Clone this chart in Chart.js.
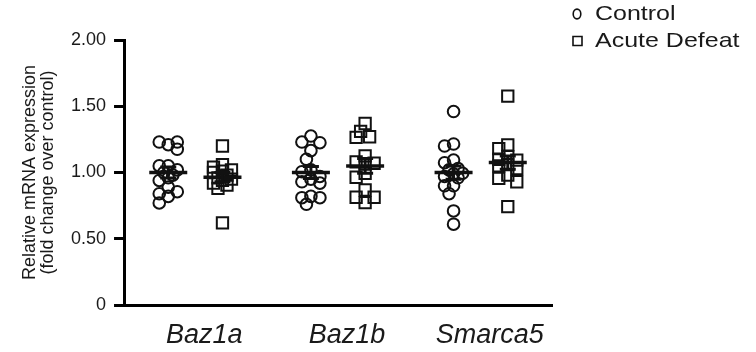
<!DOCTYPE html>
<html lang="en">
<head>
<meta charset="UTF-8">
<title>Baz1a / Baz1b / Smarca5 expression</title>
<script src="https://cdn.jsdelivr.net/npm/chart.js"></script>
<style>
    body { margin: 0; background: #fff; }
    .wrap { width: 756px; height: 352px; }
</style>
</head>
<body>
<div class="wrap"><canvas id="chart" width="756" height="352"></canvas></div>
<script>
const categories = ['Baz1a', 'Baz1b', 'Smarca5'];
const seriesNames = ['Control', 'Acute Defeat'];

// individual animals, fold change over control
const controlValues = [
    [1.21, 1.23, 1.175, 1.23, 1.05, 1.05, 1.02, 1.00, 0.98, 0.94, 0.96, 0.89, 0.84, 0.855, 0.82, 0.77],
    [1.275, 1.23, 1.225, 1.165, 1.10, 1.02, 1.006, 0.97, 0.95, 0.93, 0.92, 0.82, 0.81, 0.81, 0.76],
    [1.46, 1.215, 1.20, 1.094, 1.074, 1.03, 1.02, 0.994, 0.99, 0.97, 0.96, 0.90, 0.90, 0.84, 0.71, 0.61]
];
const defeatValues = [
    [1.20, 1.06, 1.04, 1.02, 1.01, 1.00, 0.98, 0.96, 0.95, 0.94, 0.92, 0.905, 0.88, 0.62],
    [1.37, 1.31, 1.27, 1.265, 1.125, 1.08, 1.07, 1.064, 0.994, 0.964, 0.868, 0.813, 0.813, 0.772],
    [1.577, 1.208, 1.18, 1.12, 1.10, 1.094, 1.06, 1.05, 1.03, 0.98, 0.956, 0.93, 0.742]
];

// group mean and SEM
const controlMean = [1.00, 1.00, 1.00];
const controlSem = [0.042, 0.045, 0.05];
const defeatMean = [0.965, 1.05, 1.075];
const defeatSem = [0.035, 0.056, 0.05];

const yTicks = [0, 0.5, 1, 1.5, 2];

const FONT = "'Liberation Sans', Arial, Helvetica, sans-serif";
const INK = '#111';
const GROUP_SHIFT = 0.19;   // control left of the gene, defeat right of it

// rough plot scale, only used to push overlapping dots sideways
const PX_PER_X = 428 / 3;
const PX_PER_Y = 265 / 2;

function swarm(values, center) {
    const placed = [];
    const steps = [0, -4.5, 4.5, -9, 9];
    return values.map(v => {
        let best = 0, bestGap = -1;
        for (const dx of steps) {
            let gap = Infinity;
            placed.forEach(p => {
                gap = Math.min(gap, Math.hypot(dx - p.dx, (v - p.v) * PX_PER_Y));
            });
            if (gap >= 9) { best = dx; bestGap = gap; break; }
            if (gap > bestGap) { best = dx; bestGap = gap; }
        }
        placed.push({ dx: best, v: v });
        return { x: center + best / PX_PER_X, y: v };
    });
}

function buildPoints(groups, shift) {
    let pts = [];
    groups.forEach((vals, i) => { pts = pts.concat(swarm(vals, i + shift)); });
    return pts;
}

// mean bar with SEM whiskers for every group
const meanSemPlugin = {
    id: 'meanSem',
    afterDatasetsDraw(chart) {
        const { ctx, scales: { x, y } } = chart;
        const sets = [
            { mean: controlMean, sem: controlSem, shift: -GROUP_SHIFT },
            { mean: defeatMean, sem: defeatSem, shift: GROUP_SHIFT }
        ];
        ctx.save();
        ctx.strokeStyle = INK;
        ctx.lineCap = 'butt';
        sets.forEach(s => {
            categories.forEach((c, i) => {
                const cx = x.getPixelForValue(i + s.shift);
                const ym = y.getPixelForValue(s.mean[i]);
                const yHi = y.getPixelForValue(s.mean[i] + s.sem[i]);
                const yLo = y.getPixelForValue(s.mean[i] - s.sem[i]);
                ctx.lineWidth = 3.5;
                ctx.beginPath();
                ctx.moveTo(cx - 19, ym); ctx.lineTo(cx + 19, ym);
                ctx.stroke();
                ctx.lineWidth = 3;
                ctx.beginPath();
                ctx.moveTo(cx, yHi); ctx.lineTo(cx, yLo);
                ctx.moveTo(cx - 8, yHi); ctx.lineTo(cx + 8, yHi);
                ctx.moveTo(cx - 8, yLo); ctx.lineTo(cx + 8, yLo);
                ctx.stroke();
            });
        });
        ctx.restore();
    }
};

// small legend in the top right corner, above the plot
const cornerLegend = {
    id: 'cornerLegend',
    afterDraw(chart) {
        const ctx = chart.ctx;
        ctx.save();
        ctx.strokeStyle = INK;
        ctx.fillStyle = '#1a1a1a';
        ctx.lineWidth = 1.6;
        chart.data.datasets.forEach((ds, k) => {
            const my = k === 0 ? 14 : 41;
            ctx.beginPath();
            if (ds.pointStyle === 'circle') {
                ctx.ellipse(577, my, 3.8, 4.9, 0, 0, Math.PI * 2);
            } else {
                ctx.rect(573, my - 4.5, 9, 9);
            }
            ctx.stroke();
            ctx.save();
            ctx.translate(595, my);
            ctx.scale(1.19, 1);
            ctx.font = '21px ' + FONT;
            ctx.textBaseline = 'middle';
            ctx.fillText(ds.label, 0, 0);
            ctx.restore();
        });
        ctx.restore();
    }
};

new Chart(document.getElementById('chart'), {
    type: 'scatter',
    data: {
        datasets: [
            {
                label: seriesNames[0],
                data: buildPoints(controlValues, -GROUP_SHIFT),
                pointStyle: 'circle',
                pointRadius: 5.8,
                borderWidth: 2,
                borderColor: INK,
                backgroundColor: 'rgba(0,0,0,0)'
            },
            {
                label: seriesNames[1],
                data: buildPoints(defeatValues, GROUP_SHIFT),
                pointStyle: 'rect',
                pointRadius: 8,
                borderWidth: 2,
                borderColor: INK,
                backgroundColor: 'rgba(0,0,0,0)'
            }
        ]
    },
    options: {
        responsive: false,
        animation: false,
        layout: { padding: { left: 21, top: 40, right: 204, bottom: 3 } },
        plugins: {
            legend: { display: false },
            tooltip: { enabled: false }
        },
        scales: {
            x: {
                type: 'linear',
                min: -0.5,
                max: 2.5,
                afterBuildTicks: s => { s.ticks = categories.map((c, i) => ({ value: i })); },
                afterFit: s => { s.height = 44; },
                grid: { display: false, drawTicks: false },
                border: { display: true, color: '#000', width: 3 },
                ticks: {
                    callback: v => categories[v],
                    font: { family: FONT, size: 27, style: 'italic' },
                    color: '#1a1a1a',
                    padding: 14,
                    labelOffset: 9,
                    maxRotation: 0,
                    autoSkip: false
                }
            },
            y: {
                min: 0,
                max: 2,
                afterBuildTicks: s => { s.ticks = yTicks.map(v => ({ value: v })); },
                grid: {
                    drawOnChartArea: false,
                    tickColor: '#000',
                    tickLength: 10,
                    tickWidth: 3
                },
                border: { color: '#000', width: 3 },
                ticks: {
                    callback: v => (v === 0 ? '0' : v.toFixed(2)),
                    font: { family: FONT, size: 18 },
                    color: '#1a1a1a',
                    padding: 8
                },
                title: {
                    display: true,
                    text: ['Relative mRNA expression', '(fold change over control)'],
                    font: { family: FONT, size: 18, lineHeight: 1.0 },
                    color: '#1a1a1a',
                    padding: { top: 0, bottom: 6 }
                }
            }
        }
    },
    plugins: [meanSemPlugin, cornerLegend]
});
</script>
</body>
</html>
